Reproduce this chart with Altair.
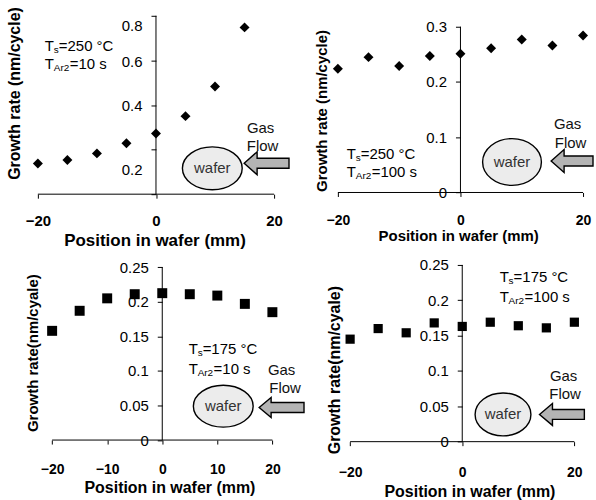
import altair as alt
import pandas as pd

# Measured growth rate (nm/cycle) versus position across the wafer (mm)
positions = [-20, -15, -10, -5, 0, 5, 10, 15, 20]
rate_250c_10s = [0.138, 0.153, 0.183, 0.228, 0.272, 0.350, 0.483, 0.748]
rate_250c_100s = [0.224, 0.245, 0.229, 0.247, 0.251, 0.261, 0.277, 0.266, 0.284]
rate_175c_10s = [0.158, 0.187, 0.205, 0.211, 0.2125, 0.211, 0.209, 0.197, 0.185]
rate_175c_100s = [0.145, 0.160, 0.154, 0.168, 0.163, 0.169, 0.164, 0.161, 0.169]

FONT = "Liberation Sans"
X_TITLE = "Position in wafer (mm)"
TICK = 4


def ellipse_path(ratio):
    c = 0.5523
    k = ratio
    return (f"M -1 0 C -1 {-c*k:.4f} {-c:.4f} {-k:.4f} 0 {-k:.4f} "
            f"C {c:.4f} {-k:.4f} 1 {-c*k:.4f} 1 0 "
            f"C 1 {c*k:.4f} {c:.4f} {k:.4f} 0 {k:.4f} "
            f"C {-c:.4f} {k:.4f} -1 {c*k:.4f} -1 0 Z")


def arrow_path(w, h, body, head):
    s = w / 2
    hh, bh, hx = h / 2 / s, body / 2 / s, -1 + head / s
    return (f"M -1 0 L {hx:.4f} {-hh:.4f} L {hx:.4f} {-bh:.4f} L 1 {-bh:.4f} "
            f"L 1 {bh:.4f} L {hx:.4f} {bh:.4f} L {hx:.4f} {hh:.4f} Z")


def panel(vals, p):
    # p["box"]: frame of the -20..20 / 0..ymax axes; p["cell"]: view origin
    left, right, top, bottom = p["box"]
    cx, cy = p["cell"]
    w = round(right - cx, 1)
    h = round(bottom - cy, 1)
    xppu = (right - left) / 40.0
    yppu = (bottom - top) / p["ymax"]
    xmin = -20 - (left - cx) / xppu
    ymax_dom = p["ymax"] + (top - cy) / yppu
    x0 = left + 20 * xppu  # pixel column of x = 0

    xs = alt.Scale(domain=[xmin, 20], nice=False, zero=False)
    ys = alt.Scale(domain=[0, ymax_dom], nice=False, zero=False)

    x_axis = alt.Axis(
        values=p["xticks"], format="d", title=X_TITLE, grid=False,
        domain=False, tickColor="black", tickSize=TICK,
        labelFont=FONT, labelFontWeight="bold", labelFontSize=p["xlab_size"],
        labelColor="black", labelFlush=False, labelOverlap=False,
        labelBaseline="middle", labelPadding=p["xlab_y"] - bottom - TICK,
        titleFont=FONT, titleFontWeight="bold", titleFontSize=p["xtitle_size"],
        titleColor="black", titleBaseline="middle", titleAlign="center",
        titleX=p["xtitle_at"][0] - cx, titleY=p["xtitle_at"][1] - bottom)

    y_kw = dict(
        values=p["yticks"], format=p["yfmt"], title=p["ytext"], grid=False,
        offset=-(x0 - cx), domain=False, tickColor="black", tickSize=5,
        labelFont=FONT, labelFontSize=15, labelColor="black",
        labelOverlap=False, labelPadding=9, labelFlush=False,
        titleFont=FONT, titleFontWeight="bold", titleFontSize=p["ytitle_size"],
        titleColor="black", titleAngle=-90, titleBaseline="middle",
        titleAlign="center", titleX=p["ytitle_at"][0] - x0,
        titleY=p["ytitle_at"][1] - cy)
    if p.get("hide_zero"):
        y_kw["labelExpr"] = "datum.value == 0 ? '' : datum.label"
    if p.get("label_offset"):
        y_kw["labelOffset"] = p["label_offset"]
    y_axis = alt.Axis(**y_kw)

    def enc():
        return dict(x=alt.X("x:Q", scale=xs, axis=x_axis),
                    y=alt.Y("y:Q", scale=ys, axis=y_axis))

    def text_layer(rows, **mark):
        df = pd.DataFrame(rows, columns=["x", "y", "t"])
        return alt.Chart(df).mark_text(font=FONT, **mark).encode(
            text="t:N", **enc())

    def shape_layer(x, y, path, sw, fill):
        df = pd.DataFrame({"x": [x], "y": [y]})
        return alt.Chart(df).mark_point(
            shape=path, size=sw * sw, filled=True, fill=fill, stroke="black",
            strokeWidth=1.4, opacity=1, fillOpacity=1).encode(**enc())

    # axis lines spanning exactly -20..20 and 0..ymax
    xline = alt.Chart(pd.DataFrame({"x": [-20], "x2": [20], "y": [0]})) \
        .mark_rule(color="black", strokeWidth=1).encode(x2="x2:Q", **enc())
    yline = alt.Chart(pd.DataFrame({"x": [0], "y": [0], "y2": [p["ymax"]]})) \
        .mark_rule(color="black", strokeWidth=1).encode(y2="y2:Q", **enc())

    df = pd.DataFrame({"x": positions[:len(vals)], "y": vals})
    points = alt.Chart(df).mark_point(
        shape=p["shape"], size=p["size"], filled=True, color="black",
        opacity=1).encode(**enc())

    ex, ey, ew, eh = p["ellipse"]
    ax, ay, aw, ah, ab, ahd = p["arrow"]
    tx, ty1, ty2 = p["note"]
    layers = [
        xline, yline, points,
        shape_layer(ex, ey, ellipse_path(eh / ew), ew, "#ececec"),
        text_layer([(ex, ey, "wafer")], fontSize=15, color="#333333"),
        shape_layer(ax, ay, arrow_path(aw, ah, ab, ahd), aw, "#b4b4b4"),
        text_layer([(p["gas"][0], p["gas"][1], "Gas"),
                    (p["flow"][0], p["flow"][1], "Flow")],
                   fontSize=15, color="#111111"),
        text_layer([(tx, ty1, "T"), (tx, ty2, "T")],
                   fontSize=15, align="left", color="black"),
        text_layer([(tx, ty1, "s"), (tx, ty2, "Ar2")],
                   fontSize=10, align="left", dx=9, dy=4, color="black"),
        text_layer([(tx, ty1, p["line1"])],
                   fontSize=15, align="left", dx=14, color="black"),
        text_layer([(tx, ty2, p["line2"])],
                   fontSize=15, align="left", dx=25, color="black"),
    ]
    if p.get("guard"):
        # transparent frame that fixes the overall drawing size
        gdf = pd.DataFrame({"g": [0]})
        layers.append(alt.Chart(gdf).mark_rect(opacity=0).encode(
            x=alt.value(-cx), x2=alt.value(p["guard"][0] - cx),
            y=alt.value(-cy), y2=alt.value(p["guard"][1] - cy)))
    return alt.layer(*layers).properties(width=w, height=h)


p1 = panel(rate_250c_10s, dict(
    box=(38, 275, 15, 194), cell=(38, 15),
    ymax=0.8, yticks=[0, 0.2, 0.4, 0.6, 0.8], yfmt=".1~f", hide_zero=True,
    label_offset={"condition": [
        {"test": "datum.value > 0.7", "value": 10},
        {"test": "datum.value > 0.1 && datum.value < 0.3", "value": 20}],
        "value": 1},
    ytext="Growth rate (nm/cycle)", ytitle_size=16, ytitle_at=(15, 92.5),
    xticks=[-20, 0, 20], xlab_size=15, xlab_y=220,
    xtitle_size=17, xtitle_at=(155, 240),
    shape="diamond", size=100,
    note=(-18.82, 0.663, 0.584), line1="=250 °C", line2="=10 s",
    ellipse=(9.54, 0.116, 60, 43), arrow=(18.73, 0.1386, 45, 23, 10, 13),
    gas=(17.72, 0.297), flow=(18.06, 0.216),
    guard=(596, 500)))

p2 = panel(rate_250c_100s, dict(
    box=(339, 585, 26, 192.3), cell=(339, 15),
    ymax=0.3, yticks=[0, 0.1, 0.2, 0.3], yfmt=".1~f",
    ytext="Growth rate (nm/cycle)", ytitle_size=15, ytitle_at=(323, 110),
    xticks=[-20, 0, 20], xlab_size=14, xlab_y=220,
    xtitle_size=15, xtitle_at=(459.7, 235),
    shape="diamond", size=100,
    note=(-18.54, 0.0691, 0.0372), line1="=250 °C", line2="=100 s",
    ellipse=(8.41, 0.0552, 59, 47), arrow=(18.21, 0.057, 42, 23, 10, 13),
    gas=(17.48, 0.1245), flow=(17.97, 0.0895)))

p3 = panel(rate_175c_10s, dict(
    box=(52.3, 273.3, 267.3, 440.7), cell=(38, 265),
    ymax=0.25, yticks=[0, 0.05, 0.1, 0.15, 0.2, 0.25], yfmt=".2~f",
    ytext="Growth rate(nm/cyale)", ytitle_size=15, ytitle_at=(33, 353),
    xticks=[-20, -10, 0, 10, 20], xlab_size=14, xlab_y=470,
    xtitle_size=16, xtitle_at=(170, 488),
    shape="square", size=100,
    note=(4.80, 0.1322, 0.1034), line1="=175 °C", line2="=10 s",
    ellipse=(11.08, 0.049, 60, 42), arrow=(21.67, 0.0471, 45, 20, 10, 12),
    gas=(21.67, 0.102), flow=(22.30, 0.076)))

p4 = panel(rate_175c_100s, dict(
    box=(351.3, 576.3, 265, 442.3), cell=(339, 265),
    ymax=0.25, yticks=[0, 0.05, 0.1, 0.15, 0.2, 0.25], yfmt=".2~f",
    ytext="Growth rate(nm/cyale)", ytitle_size=16, ytitle_at=(336, 370),
    xticks=[-20, 0, 20], xlab_size=14, xlab_y=473,
    xtitle_size=16, xtitle_at=(471, 492),
    shape="square", size=85,
    note=(6.67, 0.2335, 0.2053), line1="=175 °C", line2="=100 s",
    ellipse=(7.27, 0.0385, 56, 43), arrow=(17.78, 0.0385, 45, 22, 10, 13),
    gas=(18.08, 0.0925), flow=(18.34, 0.0667)))

chart = alt.concat(
    p1, p2, p3, p4, columns=2, spacing={"row": 71, "column": 64},
    bounds="flush"
).properties(padding=0).configure(font=FONT).configure_view(stroke=None)

chart.save("out.html", embed_options={"renderer": "svg", "actions": False})
